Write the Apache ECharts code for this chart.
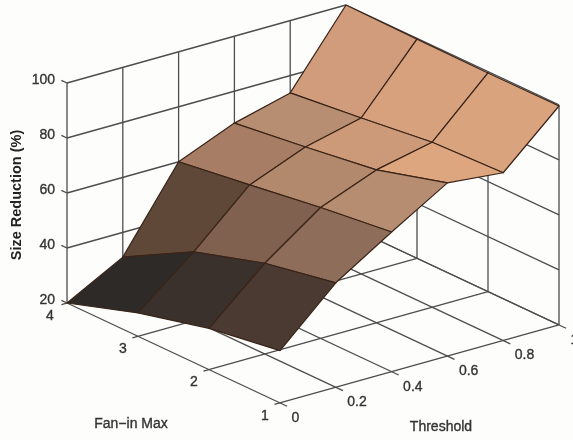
<!DOCTYPE html>
<html lang="en">
<head>
    <meta charset="UTF-8">
    <title>Size Reduction</title>
    <style>
        html, body { margin: 0; padding: 0; background: #fdfdfc; overflow: hidden; }
        #main { width: 573px; height: 440px; }
    </style>
    <script src="https://cdn.jsdelivr.net/npm/echarts@6/dist/echarts.min.js"></script>
</head>
<body>
<div id="main"></div>
<script>
    // data
    var fanIn = [4, 3, 2, 1];
    var threshold = [0, 0.2, 0.4, 0.6, 0.8, 1];
    var zTicks = [20, 40, 60, 80, 100];
    // one row per fan-in value, one column per threshold
    var z4 = [20, 31, 60, 68.4, 73.7, 100];
    var z3 = [28.5, 45, 63.7, 71.8, 76.7, 99.7];
    var z2 = [35, 53, 67.6, 75.6, 80, 99.5];
    var z1 = [39, 58, 70.8, 83, 81, 99.6];
    var zRows = [z4, z3, z2, z1];

    // orthographic view: where the floor corner sits and what one unit of each axis spans
    var view = { x0: 67, y0: 303, fx: -71, fy: -33.3, tx: 279, ty: -78, zy: -2.75 };
    function project(f, t, z) {
        return [
            view.x0 + (f - 4) * view.fx + t * view.tx,
            view.y0 + (f - 4) * view.fy + t * view.ty + (z - 20) * view.zy
        ];
    }

    // colormap over z, dark to light copper
    var cmapZ = [20, 28.5, 35, 39, 45, 53, 58, 64, 68, 72, 76, 83, 100];
    var cmapC = ['#2e2a28', '#2e2a28', '#3a302c', '#4a3a32', '#5f4838', '#80604e', '#8e6e5a', '#a87f66', '#b48a6e', '#b88e72', '#cf9b7a', '#dda67f', '#dda67f'];
    function colorOf(z) {
        for (var i = 1; i < cmapZ.length; i++) {
            if (z <= cmapZ[i]) {
                return echarts.color.lerp((z - cmapZ[i - 1]) / (cmapZ[i] - cmapZ[i - 1]), [cmapC[i - 1], cmapC[i]]);
            }
        }
        return cmapC[cmapC.length - 1];
    }

    // box lines: [f1, t1, z1, f2, t2, z2]
    var boxLines = [];
    fanIn.forEach(function (f) {
        boxLines.push([f, -0.02, 20, f, 1, 20]);
        boxLines.push([f, 1, 20, f, 1, 100]);
    });
    threshold.forEach(function (t) {
        boxLines.push([0.9, t, 20, 4, t, 20]);
        boxLines.push([4, t, 20, 4, t, 100]);
    });
    zTicks.forEach(function (z) {
        boxLines.push([4.08, 0, z, 4, 0, z]);
        boxLines.push([4, 0, z, 4, 1, z]);
        boxLines.push([4, 1, z, 1, 1, z]);
    });

    // surface cells, drawn back to front: [fan-in index, threshold index]
    var cells = [];
    for (var i = 0; i < fanIn.length - 1; i++) {
        for (var j = threshold.length - 2; j >= 0; j--) {
            cells.push([i, j]);
        }
    }

    var labels = [];
    zTicks.forEach(function (z) {
        labels.push({ p: project(4, 0, z), text: String(z), dx: -12, dy: -3, align: 'right' });
    });
    fanIn.forEach(function (f) {
        labels.push({ p: project(f, 0, 20), text: String(f), dx: f == 4 ? -17 : -15, dy: 13, align: 'center' });
    });
    threshold.forEach(function (t) {
        labels.push({ p: project(1, t, 20), text: String(t), dx: 11.5, dy: 15, align: 'left' });
    });

    var textFont = '14px "Liberation Sans", Arial, sans-serif';

    var chart = echarts.init(document.getElementById('main'), null, { renderer: 'canvas' });
    chart.setOption({
        backgroundColor: '#fdfdfc',
        animation: false,
        grid: { left: 0, top: 0, width: 573, height: 440 },
        xAxis: { type: 'value', min: 0, max: 573, show: false },
        yAxis: { type: 'value', min: 0, max: 440, inverse: true, show: false },
        series: [
            {
                type: 'custom',
                coordinateSystem: 'cartesian2d',
                clip: false,
                silent: true,
                z: 1,
                data: boxLines,
                renderItem: function (params, api) {
                    var a = api.coord(project(api.value(0), api.value(1), api.value(2)));
                    var b = api.coord(project(api.value(3), api.value(4), api.value(5)));
                    return {
                        type: 'line',
                        shape: { x1: a[0], y1: a[1], x2: b[0], y2: b[1] },
                        style: { stroke: '#4d4d4f', lineWidth: 1.3 }
                    };
                }
            },
            {
                type: 'custom',
                coordinateSystem: 'cartesian2d',
                clip: false,
                silent: true,
                z: 2,
                data: cells,
                renderItem: function (params, api) {
                    var i = api.value(0), j = api.value(1);
                    var corners = [[i, j], [i + 1, j], [i + 1, j + 1], [i, j + 1]];
                    var pts = corners.map(function (c) {
                        return api.coord(project(fanIn[c[0]], threshold[c[1]], zRows[c[0]][c[1]]));
                    });
                    return {
                        type: 'polygon',
                        shape: { points: pts },
                        style: {
                            fill: colorOf(zRows[i + 1][j]),
                            stroke: '#3a2418',
                            lineWidth: 1.2,
                            lineJoin: 'round'
                        }
                    };
                }
            },
            {
                type: 'custom',
                coordinateSystem: 'cartesian2d',
                clip: false,
                silent: true,
                z: 3,
                data: labels.map(function (l, idx) { return idx; }),
                renderItem: function (params, api) {
                    var l = labels[api.value(0)];
                    var c = api.coord(l.p);
                    return {
                        type: 'text',
                        x: c[0] + l.dx,
                        y: c[1] + l.dy,
                        style: {
                            text: l.text,
                            fill: '#333',
                            stroke: '#333',
                            lineWidth: 0.35,
                            font: textFont,
                            textAlign: l.align,
                            textVerticalAlign: 'middle'
                        }
                    };
                }
            }
        ],
        graphic: [
            {
                type: 'text', x: 131, y: 424,
                style: { text: 'Fan\u2212in Max', fill: '#333', stroke: '#333', lineWidth: 0.35, font: textFont, textAlign: 'center', textVerticalAlign: 'middle' }
            },
            {
                type: 'text', x: 441, y: 427,
                style: { text: 'Threshold', fill: '#333', stroke: '#333', lineWidth: 0.35, font: textFont, textAlign: 'center', textVerticalAlign: 'middle' }
            },
            {
                type: 'text', x: 17, y: 195, rotation: Math.PI / 2,
                style: { text: 'Size Reduction (%)', fill: '#222', font: 'bold 14.5px "Liberation Sans", Arial, sans-serif', textAlign: 'center', textVerticalAlign: 'middle' }
            }
        ]
    });
</script>
</body>
</html>
